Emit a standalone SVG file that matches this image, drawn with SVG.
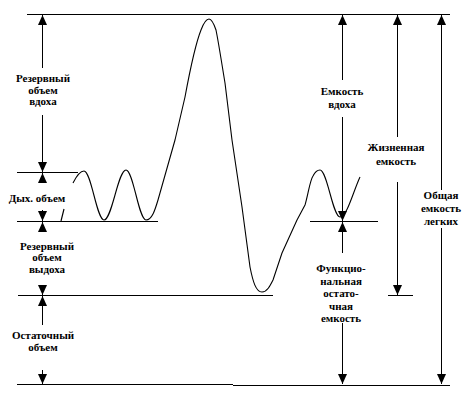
<svg xmlns="http://www.w3.org/2000/svg" width="470" height="412" viewBox="0 0 470 412">
<style>
  .ln { stroke: #000; stroke-width: 1; fill: none; }
  .ar { stroke: #000; stroke-width: 1; fill: none; marker-end: url(#ah); }
  .cv { stroke: #000; stroke-width: 1.1; fill: none; stroke-linejoin: round; }
  .lbl { font-family: 'Liberation Serif', 'DejaVu Serif', serif; font-size: 11px; font-weight: 700; fill: #000; text-anchor: middle; }
</style>
<defs>
  <marker id="ah" markerUnits="userSpaceOnUse" markerWidth="10" markerHeight="10" viewBox="0 0 10 10" refX="10" refY="5" orient="auto">
    <path d="M0,0.5 L10,5 L0,9.5 z" fill="#000"/>
  </marker>
</defs>
<rect width="470" height="412" fill="#fff"/>

<g id="levels">
  <line class="ln" x1="27" y1="14.5" x2="450" y2="14.5"/>
  <line class="ln" x1="17" y1="172.5" x2="78" y2="172.5"/>
  <line class="ln" x1="17" y1="221.5" x2="158" y2="221.5"/>
  <line class="ln" x1="310" y1="221.5" x2="378" y2="221.5"/>
  <line class="ln" x1="18" y1="295.5" x2="273" y2="295.5"/>
  <line class="ln" x1="388" y1="295.5" x2="413" y2="295.5"/>
  <line class="ln" x1="17" y1="384.5" x2="233" y2="384.5"/>
  <line class="ln" x1="233" y1="385.5" x2="450" y2="385.5"/>
</g>

<g id="spirogram">
  <path class="cv" d="M61,221 L64,209"/>
  <path class="cv" d="M73,183 C77,175 80,171 84,171 C91.3,171 96.7,220 104,220 C112,220 118,170 126,170 C133.3,170 138.7,220 146,220 C152,220 155,210 158,200 L175,140 L185,97 C190,70 197,40 201,30 C204,22 206,19 209,19 C212,19 214,24 216,30 C219,45 222,65 225,83 L232,140 L242,207 L250,267 C253,282 256,292 262,292 C267,292 270,286 273,280 L282,253 L297,220 L305,205 C308,195 310,180 313,176 C315,172 317,170 320,170 C327.2,170 332.8,217 340,217 C347,217 353,192 360,177"/>
</g>

<g id="connectors">
  <line class="ar" x1="42.5" y1="68" x2="42.5" y2="15"/>
  <line class="ar" x1="42.5" y1="115" x2="42.5" y2="172"/>
  <line class="ar" x1="42.5" y1="183" x2="42.5" y2="173"/>
  <line class="ar" x1="42.5" y1="210" x2="42.5" y2="221"/>
  <line class="ar" x1="42.5" y1="232" x2="42.5" y2="222"/>
  <line class="ar" x1="42.5" y1="285" x2="42.5" y2="295"/>
  <line class="ar" x1="42.5" y1="325" x2="42.5" y2="296"/>
  <line class="ar" x1="42.5" y1="370" x2="42.5" y2="384"/>

  <line class="ar" x1="342.5" y1="80" x2="342.5" y2="15"/>
  <line class="ar" x1="342.5" y1="117" x2="342.5" y2="221"/>
  <line class="ar" x1="342.5" y1="253" x2="342.5" y2="222"/>
  <line class="ar" x1="342.5" y1="323" x2="342.5" y2="384"/>

  <line class="ar" x1="397.5" y1="137" x2="397.5" y2="15"/>
  <line class="ar" x1="397.5" y1="182" x2="397.5" y2="295"/>

  <line class="ar" x1="441.5" y1="190" x2="441.5" y2="15"/>
  <line class="ar" x1="441.5" y1="228" x2="441.5" y2="384"/>
</g>

<g id="irv" class="lbl" font-family="Liberation Serif, serif">
  <text x="43" y="82">Резервный</text>
  <text x="43" y="93.5">объем</text>
  <text x="43" y="105">вдоха</text>
</g>
<g id="tv" class="lbl" font-family="Liberation Serif, serif">
  <text x="37" y="202">Дых. объем</text>
</g>
<g id="erv" class="lbl" font-family="Liberation Serif, serif">
  <text x="47" y="249.5">Резервный</text>
  <text x="47" y="261">объем</text>
  <text x="47" y="272.5">выдоха</text>
</g>
<g id="rv" class="lbl" font-family="Liberation Serif, serif">
  <text x="43" y="339">Остаточный</text>
  <text x="43" y="351">объем</text>
</g>
<g id="ic" class="lbl" font-family="Liberation Serif, serif">
  <text x="342" y="95">Емкость</text>
  <text x="342" y="108">вдоха</text>
</g>
<g id="vc" class="lbl" font-family="Liberation Serif, serif">
  <text x="396" y="151">Жизненная</text>
  <text x="396" y="165">емкость</text>
</g>
<g id="tlc" class="lbl" font-family="Liberation Serif, serif">
  <text x="441" y="199">Общая</text>
  <text x="441" y="212">емкость</text>
  <text x="441" y="225">легких</text>
</g>
<g id="frc" class="lbl" font-family="Liberation Serif, serif">
  <text x="341" y="272">Функцио-</text>
  <text x="341" y="284.5">нальная</text>
  <text x="341" y="297">остато-</text>
  <text x="341" y="309.5">чная</text>
  <text x="341" y="322">емкость</text>
</g>
</svg>
